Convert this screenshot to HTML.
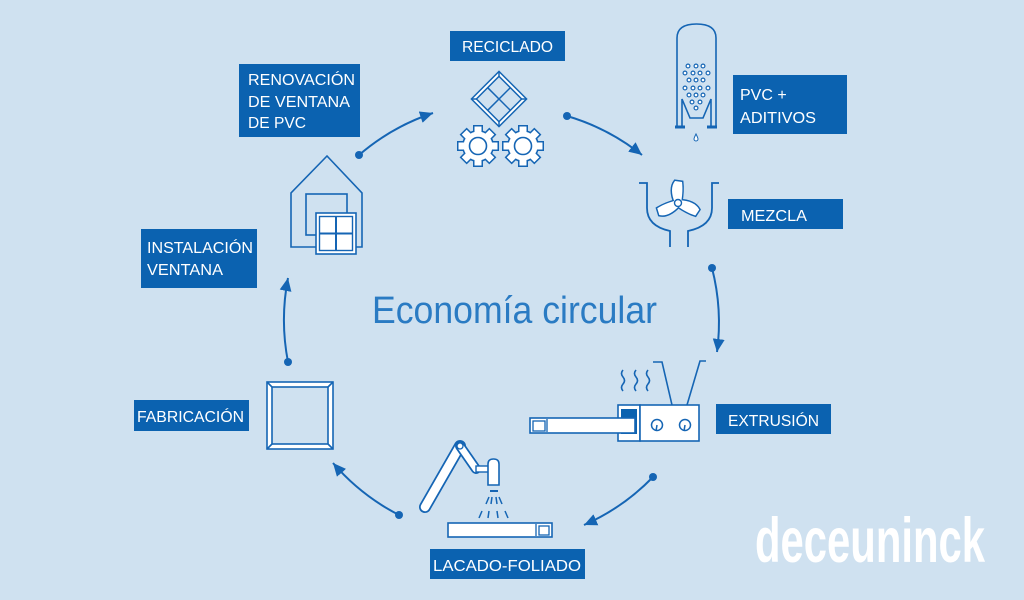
<!DOCTYPE html>
<html><head><meta charset="utf-8"><style>
html,body{margin:0;padding:0;background:#cfe1f0;}
svg{display:block;}
.lbl{font-family:"Liberation Sans",sans-serif;font-size:16px;fill:#fff;}
</style></head><body>
<svg width="1024" height="600" viewBox="0 0 1024 600" xmlns="http://www.w3.org/2000/svg">
<defs>
<marker id="ah" markerUnits="userSpaceOnUse" markerWidth="14" markerHeight="12" refX="13" refY="6" orient="auto">
<path d="M0,0 L13,6 L0,12 z" fill="#1565b4"/>
</marker>
<g id="gear">
<circle r="14.5"/>
<rect x="-3.5" y="-19.5" width="7" height="9"/>
<rect x="-3.5" y="-19.5" width="7" height="9" transform="rotate(45)"/>
<rect x="-3.5" y="-19.5" width="7" height="9" transform="rotate(90)"/>
<rect x="-3.5" y="-19.5" width="7" height="9" transform="rotate(135)"/>
<rect x="-3.5" y="-19.5" width="7" height="9" transform="rotate(180)"/>
<rect x="-3.5" y="-19.5" width="7" height="9" transform="rotate(225)"/>
<rect x="-3.5" y="-19.5" width="7" height="9" transform="rotate(270)"/>
<rect x="-3.5" y="-19.5" width="7" height="9" transform="rotate(315)"/>
</g>
<g id="prop">
<path d="M-3,0 C-7,-9 -7,-17 -3,-22 L4,-21 C5,-13 4,-6 3,0 Z"/>
<path d="M-3,0 C-7,-9 -7,-17 -3,-22 L4,-21 C5,-13 4,-6 3,0 Z" transform="rotate(115)"/>
<path d="M-3,0 C-7,-9 -7,-17 -3,-22 L4,-21 C5,-13 4,-6 3,0 Z" transform="rotate(245)"/>
</g>
</defs>

<rect width="1024" height="600" fill="#cfe1f0"/>

<!-- Label boxes -->
<g fill="#0b62b0">
<rect x="450" y="31" width="115" height="30"/>
<rect x="239" y="64" width="121" height="73"/>
<rect x="733" y="75" width="114" height="59"/>
<rect x="728" y="199" width="115" height="30"/>
<rect x="716" y="404" width="115" height="30"/>
<rect x="430" y="549" width="155" height="30"/>
<rect x="134" y="400" width="115" height="31"/>
<rect x="141" y="229" width="116" height="59"/>
</g>
<g class="lbl">
<text x="462" y="52" textLength="91" lengthAdjust="spacingAndGlyphs">RECICLADO</text>
<text x="248" y="85" textLength="107" lengthAdjust="spacingAndGlyphs">RENOVACIÓN</text>
<text x="248" y="107" textLength="102" lengthAdjust="spacingAndGlyphs">DE VENTANA</text>
<text x="248" y="128" textLength="58" lengthAdjust="spacingAndGlyphs">DE PVC</text>
<text x="740" y="100">PVC +</text>
<text x="740" y="123" textLength="76" lengthAdjust="spacingAndGlyphs">ADITIVOS</text>
<text x="741" y="221" textLength="66" lengthAdjust="spacingAndGlyphs">MEZCLA</text>
<text x="728" y="426" textLength="91" lengthAdjust="spacingAndGlyphs">EXTRUSIÓN</text>
<text x="433" y="571" textLength="148" lengthAdjust="spacingAndGlyphs">LACADO-FOLIADO</text>
<text x="137" y="422" textLength="107" lengthAdjust="spacingAndGlyphs">FABRICACIÓN</text>
<text x="147" y="253" textLength="106" lengthAdjust="spacingAndGlyphs">INSTALACIÓN</text>
<text x="147" y="275" textLength="76" lengthAdjust="spacingAndGlyphs">VENTANA</text>
</g>

<!-- Center title -->
<text x="372" y="323" font-family="Liberation Sans, sans-serif" font-size="38" fill="#2a7bc3" textLength="285" lengthAdjust="spacingAndGlyphs">Economía circular</text>

<!-- Logo -->
<text x="755" y="562" font-family="Liberation Sans Narrow, Liberation Sans, sans-serif" font-weight="bold" font-size="63" fill="#fff" textLength="230" lengthAdjust="spacingAndGlyphs">deceuninck</text>

<!-- Arrows -->
<g fill="none" stroke="#1565b4" stroke-width="2" marker-end="url(#ah)">
<path d="M359,155 A220,220 0 0 1 433,113"/>
<path d="M567,116 A220,220 0 0 1 642,155"/>
<path d="M712,268 A220,220 0 0 1 717,352"/>
<path d="M653,477 A220,220 0 0 1 584,525"/>
<path d="M399,515 A220,220 0 0 1 333,463"/>
<path d="M288,362 A220,220 0 0 1 288,278"/>
</g>
<g fill="#1565b4">
<circle cx="359" cy="155" r="4"/>
<circle cx="567" cy="116" r="4"/>
<circle cx="712" cy="268" r="4"/>
<circle cx="653" cy="477" r="4"/>
<circle cx="399" cy="515" r="4"/>
<circle cx="288" cy="362" r="4"/>
</g>

<!-- Reciclado diamond -->
<g transform="translate(499,99) rotate(45)" stroke="#1565b4" stroke-width="1.5">
<rect x="-19.5" y="-19.5" width="39" height="39" fill="#fff"/>
<rect x="-16" y="-16" width="32" height="32" fill="#cfe1f0"/>
<line x1="-19.5" y1="-19.5" x2="-16" y2="-16"/>
<line x1="19.5" y1="-19.5" x2="16" y2="-16"/>
<line x1="-19.5" y1="19.5" x2="-16" y2="16"/>
<line x1="19.5" y1="19.5" x2="16" y2="16"/>
<line x1="0" y1="-16" x2="0" y2="16"/>
<line x1="-16" y1="0" x2="16" y2="0"/>
</g>
<!-- Gears -->
<use href="#gear" x="478" y="146" fill="#1565b4" stroke="#1565b4" stroke-width="3"/>
<use href="#gear" x="478" y="146" fill="#fff"/>
<circle cx="478" cy="146" r="8.5" fill="#fff" stroke="#1565b4" stroke-width="1.6"/>
<use href="#gear" x="523" y="146" fill="#1565b4" stroke="#1565b4" stroke-width="3"/>
<use href="#gear" x="523" y="146" fill="#fff"/>
<circle cx="523" cy="146" r="8.5" fill="#fff" stroke="#1565b4" stroke-width="1.6"/>

<!-- Silo -->
<g fill="none" stroke="#1565b4" stroke-width="1.6">
<path d="M677,127 V38 Q677,24 696.5,24 Q716,24 716,38 V127"/>
<path d="M682,127 V99 L690,118 H703 L711,99 V127"/>
<path d="M675,127 H685 M707,127 H717" stroke-width="3"/>
</g>
<g fill="#fff" stroke="#1565b4" stroke-width="1.2">
<circle cx="688" cy="66" r="1.9"/><circle cx="696" cy="66" r="1.9"/><circle cx="703" cy="66" r="1.9"/>
<circle cx="685" cy="73" r="1.9"/><circle cx="693" cy="73" r="1.9"/><circle cx="700" cy="73" r="1.9"/><circle cx="708" cy="73" r="1.9"/>
<circle cx="689" cy="80" r="1.9"/><circle cx="696" cy="80" r="1.9"/><circle cx="703" cy="80" r="1.9"/>
<circle cx="685" cy="88" r="1.9"/><circle cx="693" cy="88" r="1.9"/><circle cx="700" cy="88" r="1.9"/><circle cx="708" cy="88" r="1.9"/>
<circle cx="689" cy="95" r="1.9"/><circle cx="696" cy="95" r="1.9"/><circle cx="703" cy="95" r="1.9"/>
<circle cx="692" cy="102" r="1.9"/><circle cx="700" cy="102" r="1.9"/>
<circle cx="696" cy="108" r="1.9"/>
</g>
<path d="M696,134 Q694,138 694,139 A2,2 0 0 0 698,139 Q698,138 696,134 Z" fill="#fff" stroke="#1565b4" stroke-width="1"/>

<!-- Mixer -->
<g fill="none" stroke="#1565b4" stroke-width="1.8">
<path d="M639,183 H647 V208 Q647,226 670,231 V247"/>
<path d="M719,183 H712 V208 Q712,226 688,231 V247"/>
</g>
<use href="#prop" x="678" y="203" fill="#1565b4" stroke="#1565b4" stroke-width="3"/>
<use href="#prop" x="678" y="203" fill="#fff"/>
<circle cx="678" cy="203" r="3.5" fill="#fff" stroke="#1565b4" stroke-width="1.4"/>

<!-- Extrusion -->
<g fill="none" stroke="#1565b4" stroke-width="1.6">
<path d="M623,370 q-3,3.5 0,7 q3,3.5 0,7 q-3,3.5 0,7"/>
<path d="M636,370 q-3,3.5 0,7 q3,3.5 0,7 q-3,3.5 0,7"/>
<path d="M648,370 q-3,3.5 0,7 q3,3.5 0,7 q-3,3.5 0,7"/>
<path d="M672,405 L662,362 H653"/>
<path d="M687,405 L700,361 H706"/>
</g>
<rect x="618" y="405" width="22" height="36" fill="#fff" stroke="#1565b4" stroke-width="1.6"/>
<rect x="621" y="409" width="16" height="25" fill="#0b62b0"/>
<rect x="640" y="405" width="59" height="36" fill="#fff" stroke="#1565b4" stroke-width="1.6"/>
<rect x="530" y="418" width="105" height="15" fill="#fff" stroke="#1565b4" stroke-width="1.6"/>
<rect x="533" y="421" width="12" height="10" fill="#fff" stroke="#1565b4" stroke-width="1.3"/>
<line x1="547" y1="419" x2="547" y2="432" stroke="#1565b4" stroke-width="1.3"/>
<g fill="none" stroke="#1565b4" stroke-width="1.5">
<circle cx="657" cy="425" r="5.5"/><line x1="657" y1="425" x2="656" y2="431"/>
<circle cx="685" cy="425" r="5.5"/><line x1="685" y1="425" x2="684" y2="431"/>
</g>

<!-- Lacado robot -->
<line x1="425" y1="507" x2="460" y2="446" stroke="#1565b4" stroke-width="12" stroke-linecap="round"/>
<line x1="425" y1="507" x2="460" y2="446" stroke="#fff" stroke-width="8.5" stroke-linecap="round"/>
<line x1="460" y1="446" x2="476" y2="469" stroke="#1565b4" stroke-width="10" stroke-linecap="round"/>
<line x1="460" y1="446" x2="476" y2="469" stroke="#fff" stroke-width="6.5" stroke-linecap="round"/>
<circle cx="460" cy="446" r="3" fill="#fff" stroke="#1565b4" stroke-width="1.3"/>
<rect x="476" y="466" width="13" height="6" fill="#fff" stroke="#1565b4" stroke-width="1.4"/>
<path d="M488,485 V464 Q488,459 493.5,459 Q499,459 499,464 V485 Z" fill="#fff" stroke="#1565b4" stroke-width="1.6"/>
<g stroke="#1565b4" stroke-width="1.5">
<line x1="490" y1="491" x2="498" y2="491" stroke-width="2"/>
<line x1="489" y1="497" x2="486" y2="504"/>
<line x1="492" y1="497" x2="491" y2="504"/>
<line x1="496" y1="497" x2="497" y2="504"/>
<line x1="499" y1="497" x2="502" y2="504"/>
<line x1="482" y1="511" x2="479" y2="518"/>
<line x1="489" y1="511" x2="488" y2="518"/>
<line x1="497" y1="511" x2="498" y2="518"/>
<line x1="505" y1="511" x2="508" y2="518"/>
</g>
<rect x="448" y="523" width="104" height="14" fill="#fff" stroke="#1565b4" stroke-width="1.6"/>
<rect x="539" y="526" width="10" height="9" fill="#fff" stroke="#1565b4" stroke-width="1.3"/>
<line x1="536" y1="524" x2="536" y2="536" stroke="#1565b4" stroke-width="1.3"/>

<!-- Fabricación frame -->
<g stroke="#1565b4" stroke-width="1.6">
<rect x="267" y="382" width="66" height="67" fill="#fff"/>
<rect x="272" y="387" width="56" height="57" fill="#cfe1f0"/>
<line x1="267" y1="382" x2="272" y2="387"/>
<line x1="333" y1="382" x2="328" y2="387"/>
<line x1="267" y1="449" x2="272" y2="444"/>
<line x1="333" y1="449" x2="328" y2="444"/>
</g>

<!-- House -->
<g fill="none" stroke="#1565b4" stroke-width="1.6">
<path d="M291,247 V193 L327,156 L362,193 V247 Z"/>
<rect x="306" y="194" width="41" height="41"/>
</g>
<rect x="316" y="213" width="40" height="41" fill="#fff" stroke="#1565b4" stroke-width="1.6"/>
<rect x="319.5" y="216.5" width="33" height="34" fill="#fff" stroke="#1565b4" stroke-width="1.4"/>
<line x1="336" y1="216.5" x2="336" y2="250.5" stroke="#1565b4" stroke-width="2"/>
<line x1="319.5" y1="233.5" x2="352.5" y2="233.5" stroke="#1565b4" stroke-width="2"/>
</svg>
</body></html>
